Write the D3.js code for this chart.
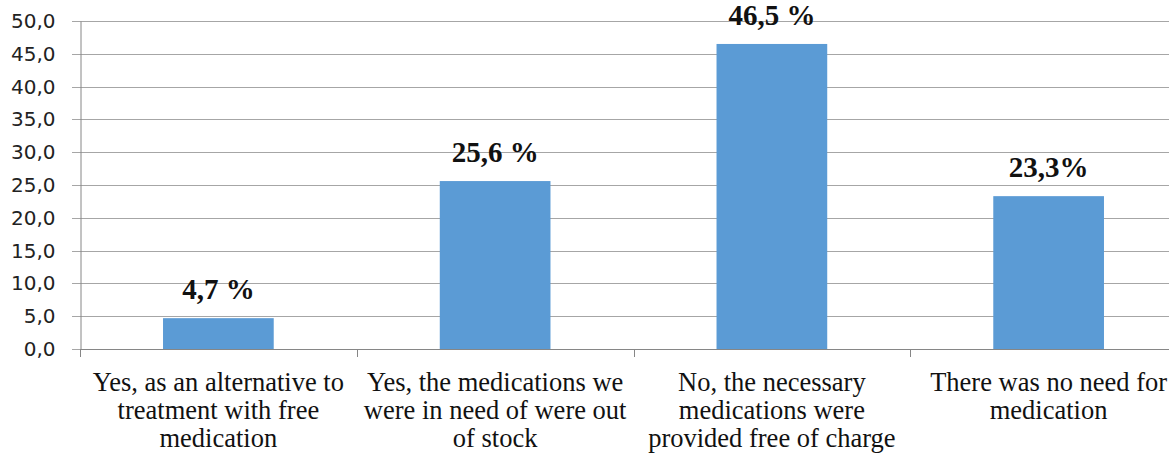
<!DOCTYPE html>
<html><head><meta charset="utf-8">
<script src="https://cdn.jsdelivr.net/npm/d3@7"></script>
<style>body{margin:0;background:#fff}svg{display:block}</style>
</head><body>
<svg id="c" width="1169" height="457"></svg>
<script>
const categories = [
  ["Yes, as an alternative to","treatment with free","medication"],
  ["Yes, the medications we","were in need of were out","of stock"],
  ["No, the necessary","medications were","provided free of charge"],
  ["There was no need for","medication"]
];
const values = [4.7, 25.6, 46.5, 23.3];
const valueLabels = ["4,7 %", "25,6 %", "46,5 %", "23,3%"];
const yTicks = [0,5,10,15,20,25,30,35,40,45,50];

(function(){
const svg = d3.select("#c");
const pLeft = 80, pRight = 1187, pTop = 21, pBottom = 349;
const x = d3.scaleBand().domain(d3.range(values.length)).range([pLeft, pRight]).paddingInner(0.6).paddingOuter(0.3);
const xb = d3.scaleBand().domain(d3.range(values.length)).range([pLeft, pRight]);
const y = d3.scaleLinear().domain([0, 50]).range([pBottom, pTop]);

svg.append("g").selectAll("line").data(yTicks).join("line")
  .attr("x1", pLeft - 8).attr("x2", pRight)
  .attr("y1", d => Math.round(y(d)) + 0.5).attr("y2", d => Math.round(y(d)) + 0.5)
  .attr("stroke", "#a6a6a6").attr("stroke-width", 1);

const yAxis = d3.axisLeft(y).tickValues(yTicks).tickFormat(d => d3.format(".1f")(d).replace(".", ",")).tickSize(0).tickPadding(25);
const gy = svg.append("g").attr("transform", `translate(${pLeft + 0.5},0)`).call(yAxis);
gy.select(".domain").attr("stroke", "#868686");
gy.selectAll("text").attr("font-family", "DejaVu Sans, Verdana, sans-serif").attr("font-size", 20).attr("fill", "#222");

svg.append("g").selectAll("rect").data(values).join("rect")
  .attr("x", (d, i) => x(i)).attr("width", x.bandwidth())
  .attr("y", d => y(d)).attr("height", d => y(0) - y(d))
  .attr("fill", "#5b9bd5");

svg.append("line").attr("x1", pLeft).attr("x2", pRight).attr("y1", Math.round(y(0)) + 0.5).attr("y2", Math.round(y(0)) + 0.5).attr("stroke", "#868686");
svg.append("g").selectAll("line").data(d3.range(values.length + 1)).join("line")
  .attr("x1", i => Math.round(pLeft + i * xb.step()) + 0.5).attr("x2", i => Math.round(pLeft + i * xb.step()) + 0.5)
  .attr("y1", Math.round(y(0))).attr("y2", Math.round(y(0)) + 8)
  .attr("stroke", "#868686");

svg.append("g").selectAll("text").data(values).join("text")
  .attr("x", (d, i) => x(i) + x.bandwidth() / 2).attr("y", d => y(d) - 19)
  .attr("text-anchor", "middle")
  .attr("font-family", "Liberation Serif, Times New Roman, serif").attr("font-weight", "bold").attr("font-size", 29)
  .attr("fill", "#111").text((d, i) => valueLabels[i]);

const cg = svg.append("g").selectAll("text").data(categories).join("text")
  .attr("text-anchor", "middle")
  .attr("font-family", "Liberation Serif, Times New Roman, serif").attr("font-size", 26.5).attr("fill", "#111");
cg.each(function(lines, i) {
  d3.select(this).selectAll("tspan").data(lines).join("tspan")
    .attr("x", xb(i) + xb.bandwidth() / 2).attr("y", (l, j) => 390.5 + j * 28).text(l => l);
});
})();
</script>
</body></html>
